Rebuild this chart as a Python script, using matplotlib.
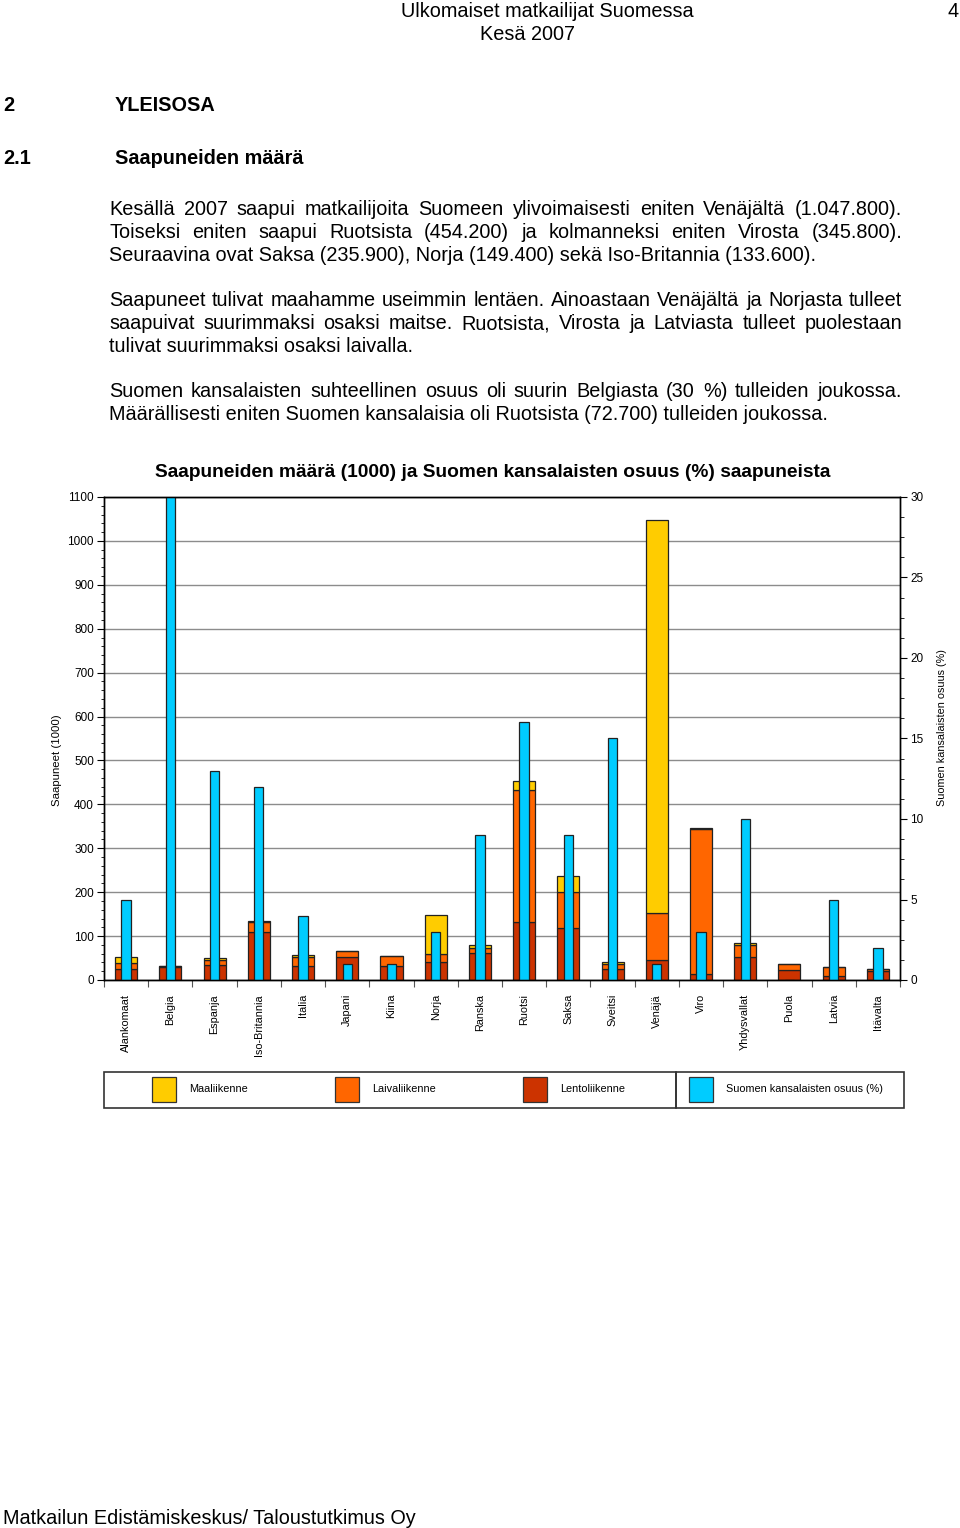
import numpy as np
import matplotlib
matplotlib.use("Agg")
import matplotlib.pyplot as plt
from matplotlib.patches import Rectangle
from matplotlib.ticker import MultipleLocator

plt.rcParams['font.family'] = ['Liberation Sans', 'DejaVu Sans']

# Data (arrivals in thousands, share of Finnish citizens in %)
maat = ['Alankomaat', 'Belgia', 'Espanja', 'Iso-Britannia', 'Italia', 'Japani',
        'Kiina', 'Norja', 'Ranska', 'Ruotsi', 'Saksa', 'Sveitsi', 'Venäjä',
        'Viro', 'Yhdysvallat', 'Puola', 'Latvia', 'Itävalta']
lento = [24, 29, 34, 109, 33, 52, 33, 42, 61, 131, 119, 25, 45, 13, 52, 23, 9, 20]
laiva = [14, 3, 12, 23, 20, 14, 22, 17, 13, 302, 82, 11, 107, 331, 27, 13, 20, 5]
maa = [14, 0, 3, 2, 5, 0, 0, 90, 6, 21, 35, 6, 896, 2, 6, 0, 0, 0]
osuus = [5.0, 30.0, 13.0, 12.0, 4.0, 1.0, 1.0, 3.0, 9.0, 16.0, 9.0, 15.0, 1.0,
         3.0, 10.0, 0.0, 5.0, 2.0]

sarjat = ['Maaliikenne', 'Laivaliikenne', 'Lentoliikenne', 'Suomen kansalaisten osuus (%)']
varit = ['#FFCC00', '#FF6600', '#CC3300', '#00CCFF']

W, H = 960, 1528
fig = plt.figure(figsize=(W / 100, H / 100), dpi=100)

# whole page in pixel coordinates, for the document text
page = fig.add_axes([0, 0, 1, 1], zorder=0)
page.set_xlim(0, W)
page.set_ylim(H, 0)
page.axis('off')
renderer = fig.canvas.get_renderer()

BODY = 14.3
SMALL = 7.8


def line(x, y, s, size=BODY, **kw):
    return page.text(x, y, s, fontsize=size, va='baseline', **kw)


def justified(x0, x1, y, s, size=BODY):
    words = s.split()
    texts = [line(0, y, w, size) for w in words]
    widths = [t.get_window_extent(renderer).width for t in texts]
    gap = (x1 - x0 - sum(widths)) / (len(words) - 1)
    x = x0
    for t, w in zip(texts, widths):
        t.set_x(x)
        x += w + gap


# header
line(401, 17, 'Ulkomaiset matkailijat Suomessa')
line(480, 40, 'Kesä 2007')
line(947, 17, '4')

# headings
line(3, 111, '2', weight='bold')
line(115, 111, 'YLEISOSA', weight='bold')
line(3, 164, '2.1', weight='bold')
line(115, 164, 'Saapuneiden määrä', weight='bold')

# paragraphs
L, R = 109, 902
justified(L, R, 215, 'Kesällä 2007 saapui matkailijoita Suomeen ylivoimaisesti eniten Venäjältä (1.047.800).')
justified(L, R, 238, 'Toiseksi eniten saapui Ruotsista (454.200) ja kolmanneksi eniten Virosta (345.800).')
line(L, 261, 'Seuraavina ovat Saksa (235.900), Norja (149.400) sekä Iso-Britannia (133.600).')
justified(L, R, 306, 'Saapuneet tulivat maahamme useimmin lentäen. Ainoastaan Venäjältä ja Norjasta tulleet')
justified(L, R, 329, 'saapuivat suurimmaksi osaksi maitse. Ruotsista, Virosta ja Latviasta tulleet puolestaan')
line(L, 352, 'tulivat suurimmaksi osaksi laivalla.')
justified(L, R, 397, 'Suomen kansalaisten suhteellinen osuus oli suurin Belgiasta (30 %) tulleiden joukossa.')
line(L, 420, 'Määrällisesti eniten Suomen kansalaisia oli Ruotsista (72.700) tulleiden joukossa.')

# footer
line(3, 1524, 'Matkailun Edistämiskeskus/ Taloustutkimus Oy')

# chart title and axis labels
page.text(493, 477, 'Saapuneiden määrä (1000) ja Suomen kansalaisten osuus (%) saapuneista',
          fontsize=13.8, weight='bold', ha='center', va='baseline')
page.text(57, 760, 'Saapuneet (1000)', fontsize=8.2, rotation=90, ha='center', va='center')
page.text(942, 728, 'Suomen kansalaisten osuus (%)', fontsize=SMALL, rotation=90,
          ha='center', va='center')

# chart
x0, x1, ytop, ybot = 104, 900, 497, 980
ax = fig.add_axes([x0 / W, 1 - ybot / H, (x1 - x0) / W, (ybot - ytop) / H], zorder=1)
ax2 = ax.twinx()

x = np.arange(len(maat))
lento_a = np.array(lento)
laiva_a = np.array(laiva)
maa_a = np.array(maa)
edge = dict(edgecolor='#222222', linewidth=0.9)
ax.bar(x, lento_a, width=0.5, color=varit[2], **edge)
ax.bar(x, laiva_a, width=0.5, bottom=lento_a, color=varit[1], **edge)
ax.bar(x, maa_a, width=0.5, bottom=lento_a + laiva_a, color=varit[0], **edge)
ax2.bar(x, osuus, width=0.21, color=varit[3], **edge)

ax.set_xlim(-0.5, len(maat) - 0.5)
ax.set_ylim(0, 1100)
ax2.set_ylim(0, 30)

ax.set_axisbelow(True)
ax.yaxis.set_major_locator(MultipleLocator(100))
ax.yaxis.set_minor_locator(MultipleLocator(20))
ax.grid(axis='y', which='major', color='#8c8c8c', linewidth=1)
ax2.yaxis.set_major_locator(MultipleLocator(5))
ax2.yaxis.set_minor_locator(MultipleLocator(1.25))

ax.set_xticks(np.arange(len(maat) + 1) - 0.5)
ax.set_xticklabels([])
ax.set_xticks(x, minor=True)
ax.set_xticklabels(maat, minor=True, rotation=90, fontsize=SMALL, va='top')
ax.tick_params(axis='x', which='major', direction='out', length=5, width=0.8, color='#555555')
ax.tick_params(axis='x', which='minor', length=0, pad=10)
ax.tick_params(axis='y', which='major', direction='out', length=4.8, width=0.8,
               labelsize=8.5, pad=2.5)
ax.tick_params(axis='y', which='minor', direction='out', length=2.2, width=0.6)
ax2.tick_params(axis='y', which='major', direction='out', length=4.8, width=0.8,
                labelsize=8.5, pad=2.5)
ax2.tick_params(axis='y', which='minor', direction='out', length=3, width=0.6)

for a in (ax, ax2):
    for s in a.spines.values():
        s.set_color('black')
        s.set_linewidth(1)

# legend drawn as two boxes, like the source
page.add_patch(Rectangle((104, 1072), 572, 36, fill=False, edgecolor='#333333', lw=1.2))
page.add_patch(Rectangle((676, 1072), 228, 36, fill=False, edgecolor='#333333', lw=1.2))
box_x = [152, 335, 523, 689]
for bx, nimi, vari in zip(box_x, sarjat, varit):
    page.add_patch(Rectangle((bx, 1077), 24, 25, facecolor=vari, edgecolor='#333333', lw=0.9))
    page.text(bx + 37, 1089.5, nimi, fontsize=SMALL, va='center')

fig.savefig('out.png', dpi=100)
